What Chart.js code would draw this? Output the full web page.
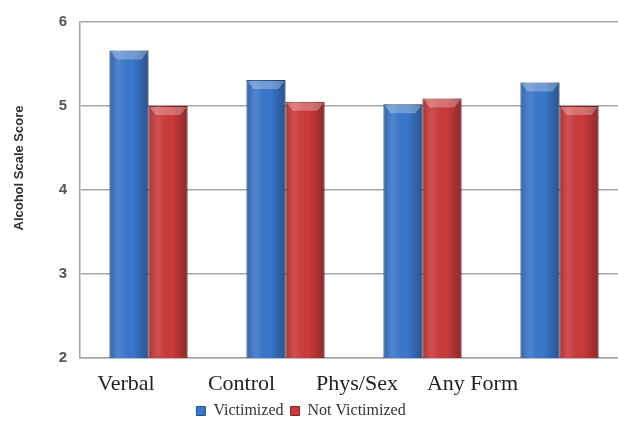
<!DOCTYPE html>
<html>
<head>
<meta charset="utf-8">
<script src="https://cdn.jsdelivr.net/npm/chart.js@4.4.1/dist/chart.umd.min.js"></script>
<style>
  html, body { margin: 0; padding: 0; background: #fff; overflow: hidden; }
  #wrap { position: relative; width: 630px; height: 421px; }
</style>
</head>
<body>
<div id="wrap"><canvas id="chart"></canvas></div>
<script>
// ---- data ----
const categories = ['Verbal', 'Control', 'Phys/Sex', 'Any Form'];
const victimized = [5.66, 5.31, 5.02, 5.28];
const notVictimized = [5.0, 5.05, 5.09, 5.0];
const yTicks = [2, 3, 4, 5, 6];
const seriesNames = ['Victimized', 'Not Victimized'];
const yTitle = 'Alcohol Scale Score';

const BLUE = '#3a77cb';
const RED = '#cb3a3b';

// rotated y title, drawn left of the tick labels
const yTitlePlugin = {
  id: 'yTitle',
  afterDraw(chart) {
    const ctx = chart.ctx;
    ctx.save();
    ctx.translate(19, 168);
    ctx.rotate(-Math.PI / 2);
    ctx.font = 'bold 13px "Liberation Sans", Arial, sans-serif';
    ctx.fillStyle = '#333';
    ctx.textAlign = 'center';
    ctx.textBaseline = 'middle';
    ctx.fillText(yTitle, 0, 0);
    ctx.restore();
  }
};

// glossy shading on the bars
const bevelPlugin = {
  id: 'bevel',
  afterDatasetsDraw(chart) {
    const ctx = chart.ctx;
    const area = chart.chartArea;
    chart.data.datasets.forEach((ds, di) => {
      chart.getDatasetMeta(di).data.forEach(bar => {
        const left = bar.x - bar.width / 2;
        const right = bar.x + bar.width / 2;
        const top = bar.y;
        const bottom = Math.min(bar.base, area.bottom);
        const g = ctx.createLinearGradient(left, 0, right, 0);
        g.addColorStop(0, 'rgba(0,0,0,0.18)');
        g.addColorStop(0.25, 'rgba(255,255,255,0.10)');
        g.addColorStop(0.6, 'rgba(0,0,0,0)');
        g.addColorStop(1, 'rgba(0,0,0,0.30)');
        ctx.save();
        ctx.fillStyle = g;
        ctx.fillRect(left, top, bar.width, bottom - top);
        ctx.fillStyle = 'rgba(255,255,255,0.28)';
        ctx.beginPath();
        ctx.moveTo(left + 1, top + 1);
        ctx.lineTo(right - 1, top + 1);
        ctx.lineTo(right - 7, top + 9);
        ctx.lineTo(left + 7, top + 9);
        ctx.closePath();
        ctx.fill();
        ctx.restore();
      });
    });
  }
};

new Chart(document.getElementById('chart'), {
  type: 'bar',
  data: {
    labels: categories,
    datasets: [
      { label: seriesNames[0], data: victimized, backgroundColor: BLUE, borderColor: '#23528f', borderWidth: 1 },
      { label: seriesNames[1], data: notVictimized, backgroundColor: RED, borderColor: '#8c2326', borderWidth: 1 }
    ]
  },
  options: {
    responsive: true,
    maintainAspectRatio: false,
    animation: false,
    // negative left padding pulls the legend's centre left, like the original
    layout: { padding: { left: -26, right: 2, top: 0, bottom: -8 } },
    datasets: { bar: { categoryPercentage: 0.57, barPercentage: 1 } },
    plugins: {
      legend: {
        position: 'bottom',
        labels: {
          boxWidth: 9, boxHeight: 9, padding: 7, color: '#333',
          font: { family: '"Liberation Serif", "Times New Roman", serif', size: 16 }
        }
      },
      tooltip: { enabled: false }
    },
    scales: {
      x: {
        grid: { display: false, drawTicks: false },
        border: { display: true, color: '#a6a6a6', width: 1.5 },
        ticks: { display: false }
      },
      // label axis: the category names sit left of their bar pairs in the original
      xl: {
        type: 'linear',
        position: 'bottom',
        offset: false,
        min: -0.398,
        max: 4.346,
        grid: { display: false, drawTicks: false, offset: false },
        border: { display: false },
        afterBuildTicks: s => {
          s.ticks = categories.map((c, i) => ({ value: i }));
        },
        afterFit: s => { s.height = 38; },
        ticks: {
          autoSkip: false, maxRotation: 0, padding: 15, color: '#222',
          font: { family: '"Liberation Serif", "Times New Roman", serif', size: 22, lineHeight: 1 },
          callback: v => categories[v]
        }
      },
      y: {
        min: yTicks[0],
        max: yTicks[yTicks.length - 1],
        afterBuildTicks: s => { s.ticks = yTicks.map(v => ({ value: v })); },
        afterFit: s => { s.width = 106; },
        grid: { color: '#a6a6a6', lineWidth: 1.5, drawTicks: false },
        border: { display: true, color: '#a6a6a6', width: 1.5 },
        ticks: {
          padding: 13, color: '#555',
          font: { family: '"Liberation Sans", Arial, sans-serif', size: 15, weight: 'bold' }
        }
      }
    }
  },
  plugins: [yTitlePlugin, bevelPlugin]
});
</script>
</body>
</html>
